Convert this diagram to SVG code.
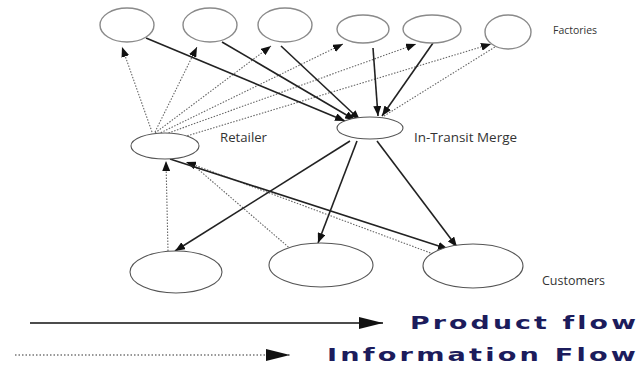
<svg xmlns="http://www.w3.org/2000/svg" width="641" height="377" viewBox="0 0 641 377">
<defs>
<marker id="ah" viewBox="0 0 10 8" refX="10" refY="4" markerWidth="10" markerHeight="8" markerUnits="userSpaceOnUse" orient="auto"><path d="M0,0 L10,4 L0,8 Z" fill="#111"/></marker>
<marker id="ahL" viewBox="0 0 24 12" refX="24" refY="6" markerWidth="24" markerHeight="12" markerUnits="userSpaceOnUse" orient="auto"><path d="M0,0 L24,6 L0,12 Z" fill="#111"/></marker>
<style>
.fac{fill:#fff;stroke:#8a8a8a;stroke-width:1.4}
.nd{fill:#fff;stroke:#555;stroke-width:1.1}
.pf{stroke:#222;stroke-width:1.6;fill:none;marker-end:url(#ah)}
.inf{stroke:#666;stroke-width:1.1;stroke-dasharray:1.5 1.5;fill:none}
.infa{marker-end:url(#ah)}
.lbl{font-family:"Open Sans","Liberation Sans",sans-serif;font-size:12.5px;fill:#333}
.leg{font-family:"DejaVu Sans","Liberation Sans",sans-serif;font-weight:bold;font-size:17px;fill:#1c1c5c}
</style>
</defs>
<rect width="641" height="377" fill="#fff"/>
<g id="connectors">
<!-- information flows -->
<line class="inf infa" x1="152" y1="132" x2="122" y2="47"/>
<line class="inf infa" x1="155" y1="132" x2="197" y2="47"/>
<line class="inf infa" x1="155" y1="133" x2="271" y2="46"/>
<line class="inf infa" x1="158" y1="134" x2="343" y2="44"/>
<line class="inf infa" x1="160" y1="136" x2="416" y2="44"/>
<line class="inf infa" x1="170" y1="141" x2="491" y2="44"/>
<line class="inf" x1="384" y1="116" x2="503" y2="42"/>
<line class="inf infa" x1="168" y1="251" x2="166" y2="161"/>
<line class="inf" x1="293" y1="251" x2="192" y2="164"/>
<line class="inf infa" x1="436" y1="255" x2="186" y2="162"/>
<!-- product flows -->
<line class="pf" x1="146" y1="38" x2="345" y2="121"/>
<line class="pf" x1="222" y1="42" x2="355" y2="120"/>
<line class="pf" x1="281" y1="46" x2="360" y2="120"/>
<line class="pf" x1="373" y1="48" x2="378" y2="116"/>
<line class="pf" x1="433" y1="43" x2="382" y2="116"/>
<line class="pf" x1="350" y1="141" x2="175" y2="251"/>
<line class="pf" x1="357" y1="141" x2="318" y2="243"/>
<line class="pf" x1="377" y1="141" x2="457" y2="247"/>
<line class="pf" x1="170" y1="159" x2="448" y2="249"/>
</g>
<g id="factory1"><ellipse class="fac" cx="127" cy="25" rx="27" ry="17"/></g>
<g id="factory2"><ellipse class="fac" cx="210" cy="25" rx="27" ry="17"/></g>
<g id="factory3"><ellipse class="fac" cx="285" cy="25" rx="27" ry="17"/></g>
<g id="factory4"><ellipse class="fac" cx="363" cy="29" rx="26" ry="14"/></g>
<g id="factory5"><ellipse class="fac" cx="432" cy="29" rx="29" ry="14"/></g>
<g id="factory6"><ellipse class="fac" cx="508" cy="32" rx="23" ry="17"/></g>
<g id="factories-label"><text class="lbl" x="553" y="34" textLength="44" lengthAdjust="spacingAndGlyphs" style="font-size:11px">Factories</text></g>
<g id="retailer"><ellipse class="nd" cx="165" cy="146" rx="34" ry="13"/><text class="lbl" x="220" y="142" textLength="47" lengthAdjust="spacingAndGlyphs">Retailer</text></g>
<g id="in-transit-merge"><ellipse class="nd" cx="370" cy="128" rx="33" ry="11"/><text class="lbl" x="414" y="142" textLength="103" lengthAdjust="spacingAndGlyphs">In-Transit Merge</text></g>
<g id="customer1"><ellipse class="nd" cx="176" cy="272" rx="46" ry="21"/></g>
<g id="customer2"><ellipse class="nd" cx="321" cy="265" rx="52" ry="22"/></g>
<g id="customer3"><ellipse class="nd" cx="473" cy="266" rx="50" ry="22"/></g>
<g id="customers-label"><text class="lbl" x="542" y="285" textLength="63" lengthAdjust="spacingAndGlyphs">Customers</text></g>
<g id="legend">
<line x1="30" y1="323" x2="383" y2="323" stroke="#111" stroke-width="1.6" marker-end="url(#ahL)"/>
<text class="leg" x="410" y="329" textLength="229" lengthAdjust="spacingAndGlyphs" letter-spacing="2">Product flow</text>
<line x1="15" y1="355" x2="290" y2="355" stroke="#333" stroke-width="1.2" stroke-dasharray="1.5 2" marker-end="url(#ahL)"/>
<text class="leg" x="327" y="361" textLength="312" lengthAdjust="spacingAndGlyphs" letter-spacing="2">Information Flow</text>
</g>
</svg>
